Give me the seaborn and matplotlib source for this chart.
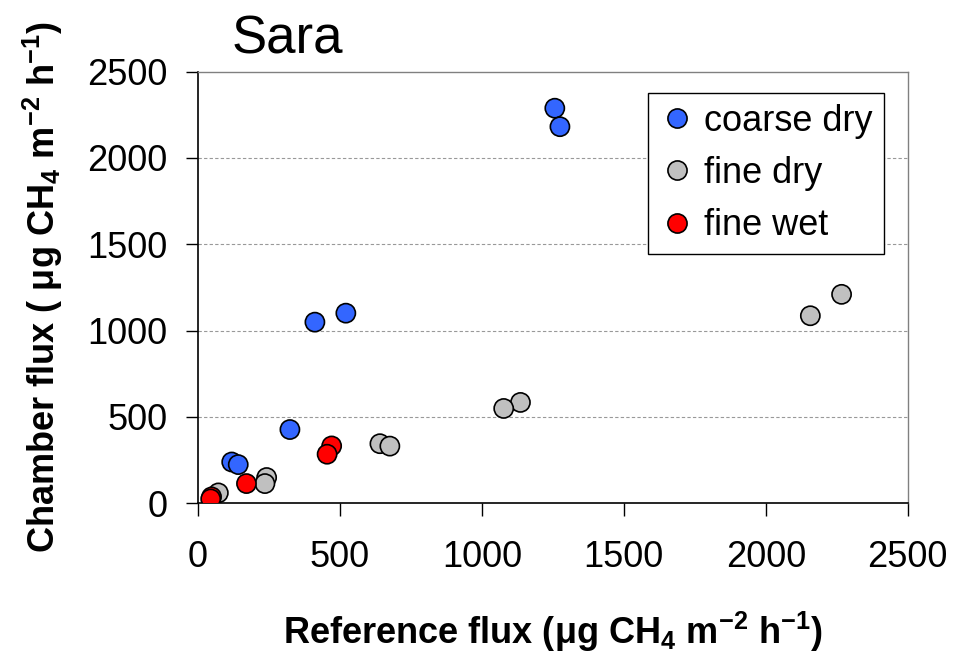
import pandas as pd
import seaborn as sns
import matplotlib.pyplot as plt

# Values
coarse_dry_x = [1257, 1275, 412, 521, 324, 119, 142]
coarse_dry_y = [2288, 2181, 1049, 1101, 427, 239, 224]

fine_dry_x = [2267, 2157, 1136, 1077, 641, 676, 242, 236, 72]
fine_dry_y = [1210, 1086, 584, 549, 345, 331, 149, 114, 60]

fine_wet_x = [471, 455, 171, 48, 45]
fine_wet_y = [332, 284, 114, 37, 25]

groups = ['coarse dry', 'fine dry', 'fine wet']
colors = ['#3366FF', '#C0C0C0', '#FF0000']
ticks = [0, 500, 1000, 1500, 2000, 2500]

df = pd.DataFrame({
    'ref': coarse_dry_x + fine_dry_x + fine_wet_x,
    'chamber': coarse_dry_y + fine_dry_y + fine_wet_y,
    'group': [groups[0]] * len(coarse_dry_x) + [groups[1]] * len(fine_dry_x) + [groups[2]] * len(fine_wet_x),
})

sns.set_style('white')
plt.rcParams['font.family'] = ['Liberation Sans', 'DejaVu Sans']
plt.rcParams['text.color'] = 'black'
plt.rcParams['axes.labelcolor'] = 'black'
plt.rcParams['mathtext.fontset'] = 'custom'
plt.rcParams['mathtext.rm'] = 'Liberation Sans'
plt.rcParams['mathtext.bf'] = 'Liberation Sans:bold'
plt.rcParams['mathtext.default'] = 'bf'

fig = plt.figure(figsize=(9.75, 6.57), dpi=100)
ax = fig.add_axes([0.203, 0.234, 0.728, 0.657])

sns.scatterplot(data=df, x='ref', y='chamber', hue='group', hue_order=groups,
                palette=dict(zip(groups, colors)), s=190, edgecolor='black',
                linewidth=1.2, ax=ax, zorder=3)

ax.set_xlim(0, 2500)
ax.set_ylim(0, 2500)
ax.set_xticks(ticks)
ax.set_yticks(ticks)
ax.tick_params(axis='both', direction='out', length=9, width=1, labelsize=26,
               color='black', labelcolor='black', bottom=True, left=True)
ax.tick_params(axis='y', pad=13)
ax.tick_params(axis='x', pad=17.5)
for y in ticks[1:-1]:
    ax.axhline(y, color='#999999', linestyle=(0, (3, 2)), linewidth=0.8, zorder=1)

for side in ['left', 'bottom']:
    ax.spines[side].set_color('black')
    ax.spines[side].set_linewidth(1.2)
for side in ['top', 'right']:
    ax.spines[side].set_color('#808080')
    ax.spines[side].set_linewidth(1.0)

ax.set_xlabel('Reference flux (μg CH$_4$ m$^{-2}$ h$^{-1}$)', fontsize=26,
              fontweight='bold', labelpad=25)
ax.set_ylabel('Chamber flux ( μg CH$_4$ m$^{-2}$ h$^{-1}$)', fontsize=26,
              fontweight='bold', labelpad=16)
ax.set_title('Sara', fontsize=38, loc='left', x=0.048, pad=13)

leg = ax.legend(loc='upper right', bbox_to_anchor=(0.966, 0.951), fontsize=26,
                frameon=True, fancybox=False, edgecolor='black', framealpha=1,
                markerscale=1.0, handlelength=1.0, handletextpad=0.25,
                borderpad=0.3, borderaxespad=0, labelspacing=0.48)
leg.get_frame().set_linewidth(1.0)
for h in leg.legend_handles:
    h.set_markeredgecolor('black')

fig.savefig('out.png', dpi=100)
